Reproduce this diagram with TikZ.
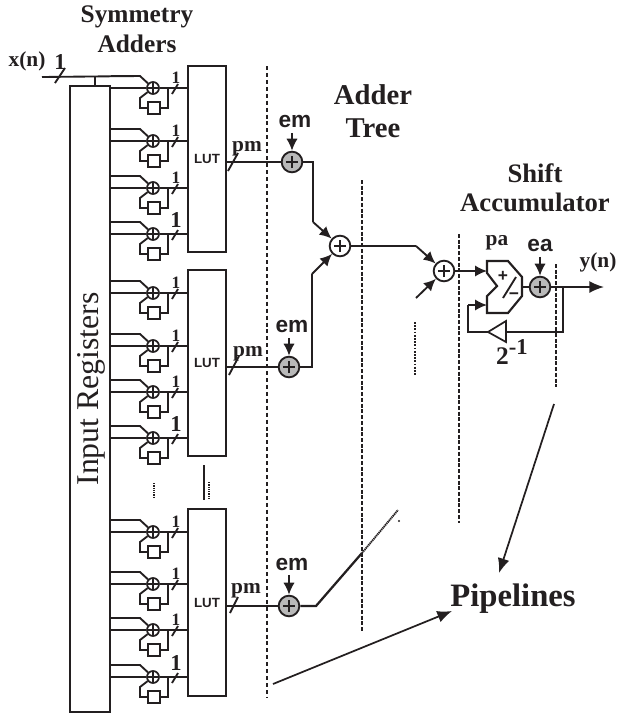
\documentclass[tikz,border=0pt]{standalone}
\usepackage{fontspec}
\setmainfont{Liberation Serif}
\setsansfont{Liberation Sans}
\usepackage{xcolor}
\usetikzlibrary{arrows.meta, calc}
\definecolor{ink}{HTML}{231F20}
\newcommand{\fsz}[1]{\fontsize{#1}{#1}\selectfont}
% one symmetry adder with its delay box, in front of a LUT
\newcommand{\adderrow}[5]{%
  \node[smalladd] (#1a) at (153,#2) {};
  \node[delaybox] (#1d) at (154,#2+20) {};
  \coordinate (#1u) at (140,#2-12);
  \coordinate (#1r) at (168,#2);
  \coordinate (#1l) at (140,#2+10);
  \coordinate (#1s) at (175,#2+1);
  \node[#4] (#1n) at (176,#2-#3) {1};
  \draw[wire] (reg.east |- #1u) -- (#1u) -- (#1a);
  \draw[wire] (reg.east |- #1a) -- (#1a);
  \draw[wire] (#1a) -- (#5.west |- #1a);
  \draw[wire] (#1r) |- (#1d.east);
  \draw[wire] (#1d.west) -| (#1l) -- (#1a);
  \draw[wire] ([shift={(-3,5)}]#1s) -- ([shift={(3,-5)}]#1s);
}
\begin{document}
\begin{tikzpicture}[
  x=0.75pt, y=-0.75pt, ink, line join=miter,
  wire/.style={line width=1.4pt},
  arrow/.style={-{Latex[length=9pt,width=8.5pt]}, line width=1.4pt},
  thinarrow/.style={-{Latex[length=11pt,width=9pt]}, line width=1.3pt},
  pipe/.style={line width=2.2pt, dash pattern=on 3pt off 1.3pt},
  pipethin/.style={line width=1.4pt, dash pattern=on 3pt off 2.2pt},
  lutbox/.style={rectangle, draw, line width=1.3pt, inner sep=0pt, minimum width=29pt, minimum height=140pt, font=\sffamily\bfseries\fsz{10}},
  delaybox/.style={rectangle, draw, line width=1.4pt, inner sep=0pt, minimum width=9pt, minimum height=8.5pt},
  smalladd/.style={circle, draw, line width=1.3pt, inner sep=0pt, minimum size=9pt, fill=white,
    path picture={\draw[line width=1.1pt] (path picture bounding box.west) -- (path picture bounding box.east) (path picture bounding box.north) -- (path picture bounding box.south);}},
  bigadd/.style={circle, draw, line width=1.4pt, inner sep=0pt, minimum size=15.5pt,
    path picture={\draw[line width=1.9pt] ([xshift=-4.6pt]path picture bounding box.center) -- ([xshift=4.6pt]path picture bounding box.center) ([yshift=-4.6pt]path picture bounding box.center) -- ([yshift=4.6pt]path picture bounding box.center);}},
  greyadd/.style={bigadd, fill=gray!55},
  title/.style={font=\bfseries\fsz{20}},
  onelabel/.style={font=\bfseries\fsz{13}},
  bigone/.style={font=\bfseries\fsz{17}},
  tag/.style={font=\bfseries\fsz{16}},
  errtag/.style={font=\sffamily\bfseries\fsz{17}}
]
\useasboundingbox (0,0) rectangle (617,718);
% titles
\node[font=\bfseries\fsz{19}] (symt) at (137,17) {Symmetry};
\node[font=\bfseries\fsz{19}] (adt) at (137,44) {Adders};
\node[title, font=\bfseries\fsz{21.5}] (addt) at (373,95) {Adder};
\node[title, font=\bfseries\fsz{21.5}] (treet) at (373,128) {Tree};
\node[title] (shiftt) at (535,173) {Shift};
\node[title] (acct) at (535,202) {Accumulator};
\node[font=\bfseries\fsz{24.5}] (pipes) at (513,599) {Pipelines};
% registers and luts
\node[rectangle, draw, line width=1.4pt, inner sep=0pt, minimum width=30pt, minimum height=469pt] (reg) at (90,399) {};
\node[rotate=90, font=\fsz{23.8}] (regt) at (91,389) {Input Registers};
\node[lutbox] (luta) at (207,159) {LUT};
\node[lutbox] (lutb) at (207,363) {LUT};
\node[lutbox] (lutc) at (207,602.5) {LUT};
% input
\node[font=\bfseries\fsz{16}] (xin) at (27,61) {x(n)};
\node[bigone] (xone) at (60,62) {1};
\coordinate (xstart) at (42,77);
\coordinate (xtap) at (95,77);
\coordinate (xs) at (60,76);
\draw[wire] ([shift={(-5,7)}]xs) -- ([shift={(5,-8)}]xs);
\draw[wire] (xtap) -- (xtap |- reg.north);
% symmetry adders
\foreach \n/\y/\d/\s/\l in {a/88/10/onelabel/luta, b/141/10/onelabel/luta, c/188/10/onelabel/luta, d/234/14/bigone/luta,
    e/293/10/onelabel/lutb, f/346/10/onelabel/lutb, g/392/10/onelabel/lutb, h/438/14/bigone/lutb,
    i/532/10/onelabel/lutc, j/584/10/onelabel/lutc, k/630/10/onelabel/lutc, l/677/14/bigone/lutc}{
  \adderrow{\n}{\y}{\d}{\s}{\l}
}
\draw[wire] (xstart) -- (au);
% gaps between groups
\draw[line width=1.7pt, dash pattern=on 1pt off 0.7pt] (154,483) -- (154,498);
\draw[line width=1.6pt] (204,465) -- (204,500);
\draw[line width=1.7pt, dash pattern=on 1pt off 0.7pt] (209,482) -- (209,500);
\draw[line width=2pt, dash pattern=on 1.4pt off 1pt] (415,322) -- (415,376);
% pipeline cuts
\draw[pipethin] (267,66) -- (267,698);
\draw[pipe] (362,180) -- (362,632);
\draw[pipe] (459,234) -- (459,523);
\draw[pipe] (556,264) -- (556,387);
% multipliers
\node[greyadd] (mula) at (292,162) {};
\node[greyadd] (mulb) at (289,367) {};
\node[greyadd] (mulc) at (289,606) {};
\node[errtag] (ema) at (295,122) {em};
\node[errtag] (emb) at (292,327) {em};
\node[errtag] (emc) at (292,564) {em};
\draw[arrow] (ema.south -| mula) -- (mula);
\draw[arrow] (emb.south -| mulb) -- (mulb);
\draw[arrow] (emc.south -| mulc) -- (mulc);
\node[tag] (pma) at (247,149) {pm};
\node[tag] (pmb) at (248,354) {pm};
\node[tag] (pmc) at (246,591) {pm};
\draw[wire] (luta.east |- mula) -- (mula);
\draw[wire] (lutb.east |- mulb) -- (mulb);
\draw[wire] (lutc.east |- mulc) -- (mulc);
\draw[wire] (228,171) -- (238,153);
\draw[wire] (229,375) -- (239,356);
\draw[wire] (230,613) -- (238,597);
% adder tree
\node[bigadd] (suma) at (340,246) {};
\node[bigadd] (sumb) at (444,271) {};
\coordinate (ta) at (313,162);
\coordinate (tb) at (313,222);
\coordinate (tc) at (312,367);
\coordinate (td) at (312,274);
\coordinate (te) at (416,246);
\coordinate (tf) at (416,298);
\draw[wire] (mula) -- (ta) -- (tb);
\draw[arrow] (tb) -- (suma);
\draw[wire] (mulb) -- (tc) -- (td);
\draw[arrow] (td) -- (suma);
\draw[wire] (suma) -- (te);
\draw[arrow] (te) -- (sumb);
\draw[arrow] (tf) -- (sumb);
\coordinate (tg) at (316,606);
\coordinate (th) at (362,553);
\coordinate (ti) at (398,510);
\draw[line width=1.7pt] (mulc) -- (tg) -- (th);
\draw[line width=1.4pt, dash pattern=on 1pt off 0.5pt] (th) -- (ti);
\fill (399,521) circle (1.2);
% shift accumulator
\coordinate (accin) at (487,271);
\coordinate (accfb) at (487,305);
\coordinate (accout) at (522,287);
\draw[line width=1.6pt] (487,261) -- (508,261) -- (522,277) -- (522,296) -- (508,313) -- (487,313) -- (487,296) -- (497,286) -- (487,273) -- cycle;
\node[font=\sffamily\bfseries\fsz{13}, inner sep=0pt] (plus) at (503,276) {+};
\node[font=\sffamily\bfseries\fsz{13}, inner sep=0pt] (minus) at (514,296) {\textminus};
\draw[wire] (503,298) -- (516,277);
\node[tag] (pat) at (497,243) {pa};
\node[greyadd] (mulo) at (540,287) {};
\node[errtag] (eat) at (540,246) {ea};
\draw[arrow] (eat.south -| mulo) -- (mulo);
\draw[arrow] (sumb) -- (accin);
\draw[wire] (accout) -- (mulo);
\node[font=\bfseries\fsz{16}] (yout) at (598,262) {y(n)};
\coordinate (yend) at (604,287);
\draw[thinarrow] (mulo) -- (yend);
\coordinate (fba) at (563,287);
\coordinate (fbb) at (468,332);
\coordinate (fbc) at (468,305);
\coordinate (shra) at (488,332);
\coordinate (shrb) at (506,332);
\draw[line width=1.3pt] (shra) -- (506,321) -- (506,342) -- cycle;
\draw[wire] (fba) |- (shrb);
\draw[wire] (shra) -- (fbb) -- (fbc);
\draw[arrow] (fbc) -- (accfb);
\node[font=\bfseries\fsz{19}] (gain) at (512,352) {2\raisebox{7pt}{\fsz{17}-1}};
% pointers
\coordinate (pa) at (554,404);
\coordinate (pb) at (499,573);
\coordinate (pc) at (273,684);
\coordinate (pd) at (452,611);
\draw[thinarrow] (pa) -- (pb);
\draw[thinarrow] (pc) -- (pd);
\end{tikzpicture}
\end{document}
